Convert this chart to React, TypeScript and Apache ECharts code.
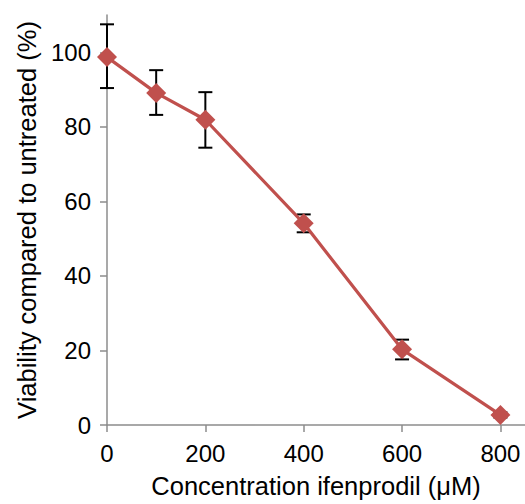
import React, { useEffect, useRef } from "react";
import * as echarts from "echarts";

const concentrations = [0, 100, 200, 400, 600, 800];
const viability = [98.7, 89.1, 81.9, 54.1, 20.3, 2.7];
const errLow = [90.4, 83.2, 74.4, 51.7, 17.6, 2.0];
const errHigh = [107.5, 95.2, 89.3, 56.5, 22.9, 3.4];
const xTicks = [0, 200, 400, 600, 800];
const yTicks = [0, 20, 40, 60, 80, 100];

const FONT = "'Liberation Sans', Arial, Helvetica, sans-serif";
const AXIS_COLOR = "#8c8c8c";
const RED = "#c0504d";

export default function App() {
  const ref = useRef<HTMLDivElement>(null);
  useEffect(() => {
    if (!ref.current) return;
    const chart = echarts.init(ref.current, null, { renderer: "svg" });
    const lineData = concentrations.map((c, i) => [c, viability[i]]);
    const errData = concentrations.map((c, i) => [c, errLow[i], errHigh[i]]);
    chart.setOption({
      animation: false,
      backgroundColor: "#fff",
      grid: { left: 107, top: 15, right: 0, bottom: 76, containLabel: false },
      xAxis: {
        type: "value",
        min: 0,
        max: 850,
        name: "Concentration ifenprodil (μM)",
        nameLocation: "middle",
        nameGap: 48,
        nameTextStyle: { fontFamily: FONT, fontSize: 25.5, color: "#000" },
        axisLine: { show: true, lineStyle: { color: AXIS_COLOR, width: 1.5 } },
        axisTick: { show: true, length: 7, lineStyle: { color: AXIS_COLOR, width: 1.5 }, customValues: xTicks },
        axisLabel: { fontFamily: FONT, fontSize: 24, color: "#000", margin: 16, customValues: xTicks },
        splitLine: { show: false },
      },
      yAxis: {
        type: "value",
        min: 0,
        max: 110,
        name: "Viability compared to untreated (%)",
        nameLocation: "middle",
        nameGap: 67,
        nameTextStyle: { fontFamily: FONT, fontSize: 25.5, color: "#000" },
        axisLine: { show: true, lineStyle: { color: AXIS_COLOR, width: 1.5 } },
        axisTick: { show: true, length: 7, lineStyle: { color: AXIS_COLOR, width: 1.5 }, customValues: yTicks },
        axisLabel: { fontFamily: FONT, fontSize: 24, color: "#000", margin: 16, customValues: yTicks },
        splitLine: { show: false },
      },
      series: [
        {
          type: "custom",
          z: 1,
          data: errData,
          encode: { x: 0, y: [1, 2] },
          renderItem: (params: any, api: any) => {
            const x = api.value(0);
            const lo = api.coord([x, api.value(1)]);
            const hi = api.coord([x, api.value(2)]);
            const half = 7;
            const style = { stroke: "#000", lineWidth: 2 };
            return {
              type: "group",
              children: [
                { type: "line", shape: { x1: lo[0], y1: lo[1], x2: hi[0], y2: hi[1] }, style },
                { type: "line", shape: { x1: lo[0] - half, y1: lo[1], x2: lo[0] + half, y2: lo[1] }, style },
                { type: "line", shape: { x1: hi[0] - half, y1: hi[1], x2: hi[0] + half, y2: hi[1] }, style },
              ],
            };
          },
        },
        {
          type: "line",
          z: 3,
          data: lineData,
          symbol: "diamond",
          symbolSize: 20,
          lineStyle: { color: RED, width: 3.2 },
          itemStyle: { color: RED },
          clip: false,
        },
      ],
    });
    return () => chart.dispose();
  }, []);
  return <div ref={ref} style={{ position: "fixed", left: 0, top: 0, width: 525, height: 504 }} />;
}
